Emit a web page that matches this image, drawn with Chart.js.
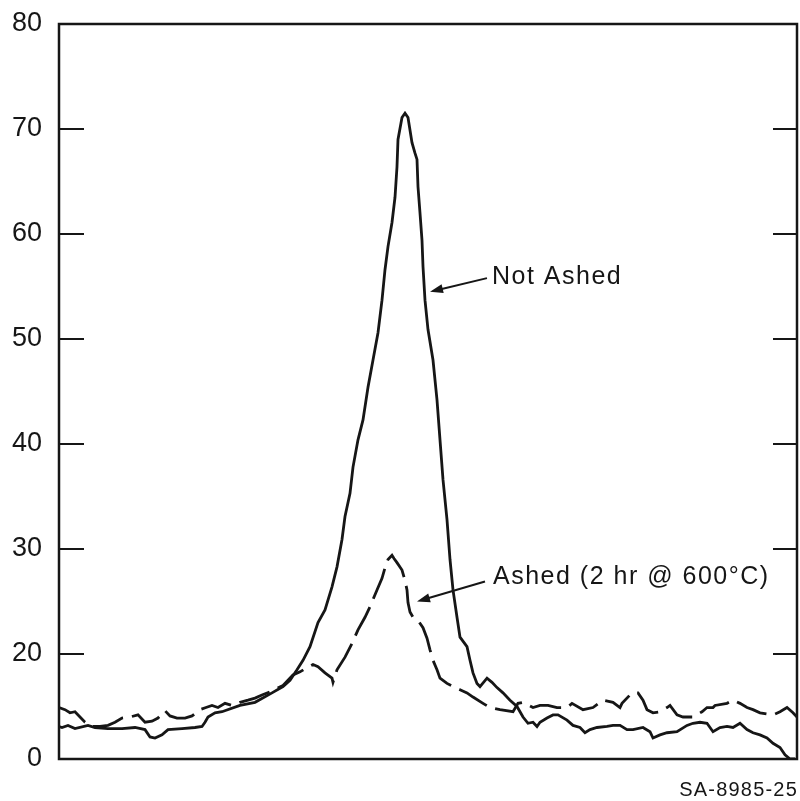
<!DOCTYPE html>
<html>
<head>
<meta charset="utf-8">
<script src="https://cdn.jsdelivr.net/npm/chart.js@4"></script>
<style>
  html, body { margin: 0; padding: 0; background: #fff; }
  #wrap { width: 800px; height: 801px; }
</style>
</head>
<body>
<div id="wrap"><canvas id="ashChart"></canvas></div>
<script>
// channel position (arbitrary units) vs. signal, two samples
const notAshedX = [0,3,9,16,29,36,49,63,76,86,91,96,103,109,123,136,143,146,149,156,163,181,196,213,224,231,238,244,251,259,266,273,278,283,286,291,294,299,304,309,314,319,323,326,329,333,336,338,339,343,346,349,353,356,358,359,361,363,364,366,369,374,378,381,384,388,391,394,398,401,408,411,414,418,421,428,433,438,444,451,458,464,469,474,478,481,488,494,499,508,514,521,526,531,538,548,554,561,568,574,584,591,594,601,608,618,628,634,641,648,654,661,668,674,681,688,694,701,708,714,721,726,731,736];
const notAshedY = [13.1,13.0,13.2,12.9,13.2,13.0,12.9,12.9,13.0,12.8,12.1,12.0,12.3,12.8,12.9,13.0,13.1,13.5,14.0,14.4,14.5,15.1,15.4,16.3,16.9,17.5,18.5,19.4,20.7,23.0,24.2,26.4,28.3,30.9,33.1,35.3,37.8,40.4,42.3,45.4,48.0,50.6,53.7,56.6,58.8,61.1,63.5,66.4,69.0,71.1,71.5,71.1,68.7,67.7,67.1,64.5,62.0,59.4,56.9,53.7,50.9,48.0,44.2,40.4,36.6,32.8,29.0,26.1,23.5,21.6,20.7,19.4,18.2,17.2,16.9,17.7,17.3,16.8,16.3,15.6,15.0,14.0,13.4,13.5,13.1,13.5,13.9,14.2,14.2,13.7,13.2,13.0,12.5,12.8,13.0,13.1,13.2,13.2,12.8,12.8,13.0,12.6,12.0,12.3,12.5,12.6,13.2,13.4,13.5,13.4,12.6,13.0,13.1,13.0,13.4,12.8,12.5,12.3,12.0,11.5,11.1,10.4,10.0,10.0];

const ashedX = [0,6,11,16,21,26,33,41,49,56,63,71,79,86,93,99,106,111,118,126,133,141,147,153,159,166,173,181,189,196,203,211,224,234,241,248,254,259,266,273,274,278,286,293,299,306,311,318,323,326,329,333,335,338,343,346,348,349,351,354,359,364,368,371,374,378,381,388,394,401,408,414,424,431,441,454,459,464,474,481,489,498,508,513,524,534,544,554,561,563,573,579,584,588,594,601,608,611,618,624,634,643,648,654,656,668,674,681,688,694,701,714,721,728,734,738];
const ashedY = [14.9,14.7,14.4,14.5,14.0,13.5,13.1,13.1,13.2,13.5,13.9,14.0,14.2,13.5,13.6,13.9,14.6,14.1,13.9,13.9,14.1,14.7,14.9,15.1,14.9,15.3,15.1,15.4,15.6,15.8,16.1,16.4,17.0,18.0,18.3,18.7,19.0,18.8,18.2,17.7,17.3,18.5,19.7,21.0,22.3,23.5,24.5,26.1,27.2,28.2,29.0,29.4,29.1,28.7,28.0,27.0,26.1,24.9,24.0,23.5,23.2,22.5,21.5,20.4,19.4,18.5,17.7,17.2,16.9,16.6,16.3,15.9,15.3,14.9,14.7,14.5,15.3,15.4,14.9,15.1,15.1,14.9,14.9,15.3,14.7,14.9,15.6,15.4,14.9,15.3,16.3,16.3,15.6,14.7,14.4,14.5,14.9,15.1,14.2,14.0,14.0,14.5,14.9,14.9,15.1,15.3,15.6,15.3,14.9,14.7,14.4,14.2,14.5,14.9,14.4,14.0];

// y axis: bottom of the frame is labelled 0 (broken axis)
const tickValues = [10, 20, 30, 40, 50, 60, 70, 80];
const tickLabels = ['0', '20', '30', '40', '50', '60', '70', '80'];

const seriesNames = ['Not Ashed', 'Ashed (2 hr @ 600°C)'];
const figureId = 'SA-8985-25';

const ink = '#161616';
const fontFamily = '"Liberation Sans", Arial, Helvetica, sans-serif';

// arrow callouts: tip on the curve, tail at the label
const callouts = [
  { text: seriesNames[0], tip: [371, 54.5], tail: [428, 55.8], at: [433, 55.9] },
  { text: seriesNames[1], tip: [358, 25.0], tail: [426, 26.9], at: [434, 27.3] }
];

const toPoints = (xs, ys) => xs.map((x, i) => ({ x: x, y: ys[i] }));

function drawArrow(ctx, x0, y0, x1, y1) {
  const ang = Math.atan2(y1 - y0, x1 - x0);
  const len = 13, half = 4.5;
  ctx.beginPath();
  ctx.moveTo(x0, y0);
  ctx.lineTo(x1 - Math.cos(ang) * len * 0.6, y1 - Math.sin(ang) * len * 0.6);
  ctx.stroke();
  ctx.beginPath();
  ctx.moveTo(x1, y1);
  ctx.lineTo(x1 - Math.cos(ang) * len - Math.sin(ang) * half, y1 - Math.sin(ang) * len + Math.cos(ang) * half);
  ctx.lineTo(x1 - Math.cos(ang) * len + Math.sin(ang) * half, y1 - Math.sin(ang) * len - Math.cos(ang) * half);
  ctx.closePath();
  ctx.fill();
}

const framePlugin = {
  id: 'frame',
  afterDatasetsDraw(chart) {
    const { ctx, chartArea: a, scales: { x, y } } = chart;
    ctx.save();
    ctx.strokeStyle = ink;
    ctx.fillStyle = ink;
    ctx.lineWidth = 2.5;
    ctx.strokeRect(a.left, a.top, a.right - a.left, a.bottom - a.top);

    // inward tick marks on both sides
    ctx.lineWidth = 2;
    tickValues.forEach(v => {
      if (v <= y.min || v >= y.max) return;
      const py = y.getPixelForValue(v);
      ctx.beginPath();
      ctx.moveTo(a.left, py); ctx.lineTo(a.left + 25, py);
      ctx.moveTo(a.right - 24, py); ctx.lineTo(a.right, py);
      ctx.stroke();
    });

    // callout labels
    ctx.font = '25px ' + fontFamily;
    ctx.textBaseline = 'middle';
    ctx.textAlign = 'left';
    ctx.letterSpacing = '1.5px';
    ctx.lineWidth = 2;
    callouts.forEach(c => {
      drawArrow(ctx,
        x.getPixelForValue(c.tail[0]), y.getPixelForValue(c.tail[1]),
        x.getPixelForValue(c.tip[0]), y.getPixelForValue(c.tip[1]));
      ctx.fillText(c.text, x.getPixelForValue(c.at[0]), y.getPixelForValue(c.at[1]));
    });

    // figure number, bottom right
    ctx.font = '20px ' + fontFamily;
    ctx.letterSpacing = '1.2px';
    ctx.textAlign = 'right';
    ctx.fillText(figureId, a.right + 1, a.bottom + 31);
    ctx.restore();
  }
};

new Chart(document.getElementById('ashChart'), {
  type: 'line',
  data: {
    datasets: [
      {
        label: seriesNames[0],
        data: toPoints(notAshedX, notAshedY),
        borderColor: ink,
        borderWidth: 2.8,
        pointRadius: 0,
        tension: 0
      },
      {
        label: seriesNames[1],
        data: toPoints(ashedX, ashedY),
        borderColor: ink,
        borderWidth: 2.8,
        borderDash: [32, 9],
        pointRadius: 0,
        tension: 0
      }
    ]
  },
  options: {
    responsive: true,
    maintainAspectRatio: false,
    animation: false,
    layout: { padding: { top: 24, right: 3, bottom: 42, left: 0 } },
    plugins: {
      legend: { display: false },
      tooltip: { enabled: false }
    },
    scales: {
      x: {
        type: 'linear',
        min: 0,
        max: 738,
        display: false
      },
      y: {
        type: 'linear',
        min: 10,
        max: 80,
        grid: { display: false, drawTicks: false },
        border: { display: false },
        afterBuildTicks: (scale) => {
          scale.ticks = tickValues.map(v => ({ value: v }));
        },
        afterFit: (scale) => {
          scale.width = 59;
          scale.paddingTop = 0;
          scale.paddingBottom = 0;
        },
        ticks: {
          padding: 17,
          color: ink,
          font: { family: fontFamily, size: 27 },
          callback: (value) => tickLabels[tickValues.indexOf(value)]
        }
      }
    }
  },
  plugins: [framePlugin]
});
</script>
</body>
</html>
